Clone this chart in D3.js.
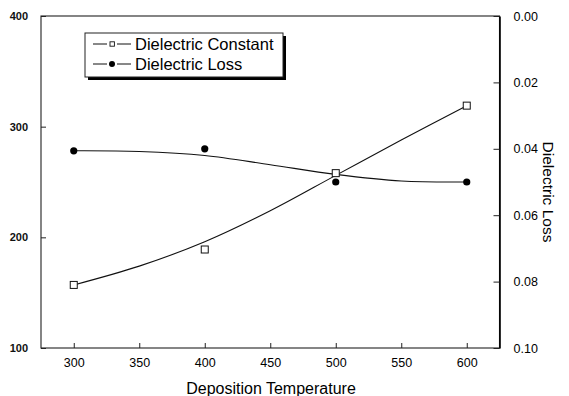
<!DOCTYPE html>
<html>
<head>
<meta charset="utf-8">
<script src="https://cdn.jsdelivr.net/npm/d3@7"></script>
<style>
  body { margin: 0; background: #fff; }
  svg { display: block; font-family: Arial, "Liberation Sans", Helvetica, sans-serif; }
</style>
</head>
<body>
<svg id="chart" width="569" height="396"></svg>
<script>
// measured points
var temps = [300, 400, 500, 600];
var dielConstant = [157, 189, 258, 319];
var dielLoss = [0.0406, 0.0400, 0.0500, 0.0500];

// fitted curves, every 50 degrees
var fitTemps = [300, 350, 400, 450, 500, 550, 600];
var fitConstant = [157, 174, 196, 224, 256, 288, 319];
var fitLoss = [0.0406, 0.0408, 0.0420, 0.0448, 0.0477, 0.0497, 0.0500];

var xTicks = [300, 350, 400, 450, 500, 550, 600];
var leftTicks = [100, 200, 300, 400];
var rightTicks = [0.00, 0.02, 0.04, 0.06, 0.08, 0.10];

var svg = d3.select("#chart");
// plot box (don't call it "top", that's window.top)
var pLeft = 41, pRight = 499.5, pTop = 16, pBottom = 348;

var x = d3.scaleLinear().domain([275, 625]).range([pLeft, pRight]);
var yL = d3.scaleLinear().domain([100, 400]).range([pBottom, pTop]);
var yR = d3.scaleLinear().domain([0, 0.10]).range([pTop, pBottom]);

// frame
svg.append("rect")
  .attr("x", pLeft).attr("y", pTop)
  .attr("width", pRight - pLeft).attr("height", pBottom - pTop)
  .attr("fill", "none").attr("stroke", "#222").attr("stroke-width", 1.1);

// bottom axis
var xAxis = d3.axisBottom(x).tickValues(xTicks).tickSizeInner(-5).tickSizeOuter(0).tickPadding(10);
var gx = svg.append("g").attr("transform", "translate(0," + pBottom + ")").call(xAxis);
gx.select(".domain").remove();
gx.selectAll("line").attr("stroke", "#222");
gx.selectAll("text").attr("font-size", 12.5).attr("fill", "#000");

// left axis
var yAxisL = d3.axisLeft(yL).tickValues(leftTicks).tickSizeInner(-5).tickSizeOuter(0).tickPadding(13);
var gl = svg.append("g").attr("transform", "translate(" + pLeft + ",0)").call(yAxisL);
gl.select(".domain").remove();
gl.selectAll("line").attr("stroke", "#222");
gl.selectAll("text").attr("font-size", 11).attr("font-weight", "bold").attr("fill", "#111");

// right axis
var yAxisR = d3.axisRight(yR).tickValues(rightTicks).tickFormat(d3.format(".2f"))
  .tickSizeInner(-6).tickSizeOuter(0).tickPadding(14);
var gr = svg.append("g").attr("transform", "translate(" + pRight + ",0)").call(yAxisR);
gr.select(".domain").attr("stroke", "#000").attr("stroke-width", 1.6);
gr.selectAll("line").attr("stroke", "#222");
gr.selectAll("text").attr("font-size", 12.5).attr("fill", "#000");

// fitted lines
var lineC = d3.line()
  .x(function(d, i) { return x(fitTemps[i]); })
  .y(function(d) { return yL(d); })
  .curve(d3.curveCatmullRom);
var lineL = d3.line()
  .x(function(d, i) { return x(fitTemps[i]); })
  .y(function(d) { return yR(d); })
  .curve(d3.curveCatmullRom);

svg.append("path").attr("d", lineL(fitLoss))
  .attr("fill", "none").attr("stroke", "#111").attr("stroke-width", 1.1);
svg.append("path").attr("d", lineC(fitConstant))
  .attr("fill", "none").attr("stroke", "#111").attr("stroke-width", 1.1);

// markers
svg.selectAll(".sq").data(dielConstant).enter().append("rect")
  .attr("class", "sq")
  .attr("x", function(d, i) { return x(temps[i]) - 3.5; })
  .attr("y", function(d) { return yL(d) - 3.5; })
  .attr("width", 7).attr("height", 7)
  .attr("fill", "#fff").attr("stroke", "#111").attr("stroke-width", 1);

svg.selectAll(".dot").data(dielLoss).enter().append("circle")
  .attr("class", "dot")
  .attr("cx", function(d, i) { return x(temps[i]); })
  .attr("cy", function(d) { return yR(d); })
  .attr("r", 3.6)
  .attr("fill", "#000");

// legend
var lg = svg.append("g");
lg.append("rect").attr("x", 88).attr("y", 36).attr("width", 198).attr("height", 44).attr("fill", "#000");
lg.append("rect").attr("x", 85).attr("y", 33).attr("width", 198).attr("height", 44)
  .attr("fill", "#fff").attr("stroke", "#222").attr("stroke-width", 1);

var rows = [
  { label: "Dielectric Constant", y: 44, kind: "sq" },
  { label: "Dielectric Loss", y: 64, kind: "dot" }
];
rows.forEach(function(r) {
  lg.append("line").attr("x1", 93).attr("x2", 107).attr("y1", r.y).attr("y2", r.y)
    .attr("stroke", "#111").attr("stroke-width", 1);
  lg.append("line").attr("x1", 117).attr("x2", 131).attr("y1", r.y).attr("y2", r.y)
    .attr("stroke", "#111").attr("stroke-width", 1);
  if (r.kind == "sq") {
    lg.append("rect").attr("x", 110).attr("y", r.y - 2.2).attr("width", 4.4).attr("height", 4.4)
      .attr("fill", "#fff").attr("stroke", "#111").attr("stroke-width", 0.9);
  } else {
    lg.append("circle").attr("cx", 112).attr("cy", r.y).attr("r", 3).attr("fill", "#000");
  }
  lg.append("text").attr("x", 135).attr("y", r.y + 6)
    .attr("font-size", 16.5).attr("fill", "#000").text(r.label);
});

// axis titles
svg.append("text")
  .attr("x", 271).attr("y", 394)
  .attr("text-anchor", "middle").attr("font-size", 16).attr("fill", "#000")
  .text("Deposition Temperature");

svg.append("text")
  .attr("transform", "translate(542.5,192) rotate(90)")
  .attr("text-anchor", "middle").attr("font-size", 15.5).attr("fill", "#000")
  .text("Dielectric Loss");
</script>
</body>
</html>
